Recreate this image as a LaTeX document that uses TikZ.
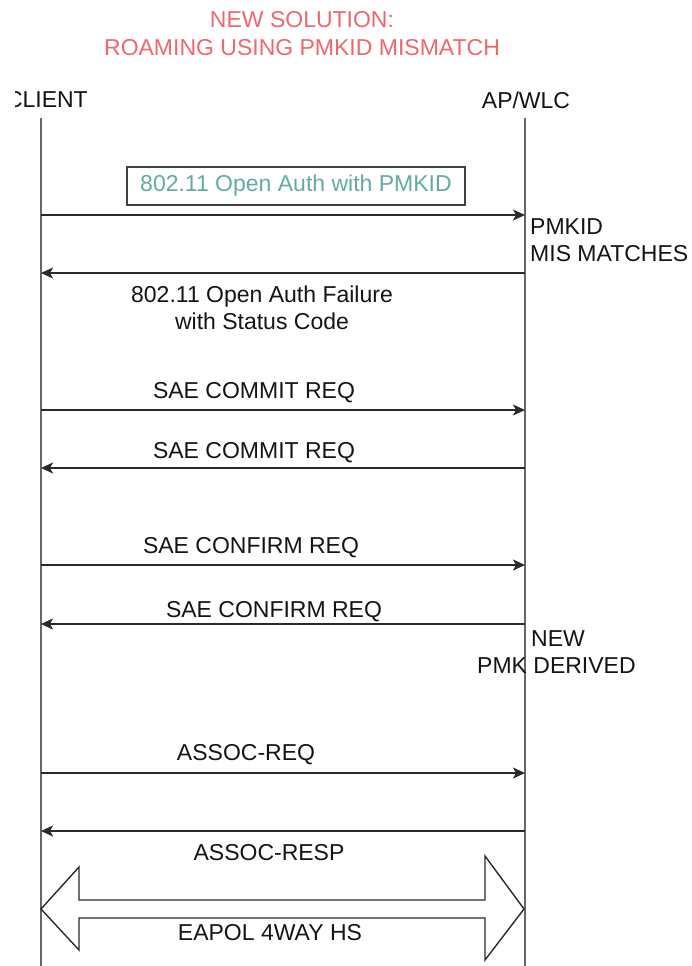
\documentclass[tikz,border=0pt]{standalone}
\usepackage{fontspec}
\setmainfont{Liberation Sans}
\usetikzlibrary{arrows.meta, positioning}
\definecolor{titlered}{HTML}{F0676B}
\definecolor{teal}{HTML}{62ABA4}
\definecolor{lifegray}{HTML}{666666}
\definecolor{msgdark}{HTML}{2A2A2A}

\begin{document}
\begin{tikzpicture}[x=1pt, y=-1pt,
        every node/.style={font=\fontsize{23}{26}\selectfont, inner sep=0pt},
        lifeline/.style={lifegray, line width=2pt},
        msg/.style={msgdark, line width=1.6pt, -{Stealth[length=12pt, width=11pt, inset=3pt]}},
        lbl/.style={text=black!92},
        note/.style={align=left, anchor=north west, text=black!92}
    ]
        \useasboundingbox (0,0) rectangle (692,966);

        % Titel
        \node[text=titlered, align=center] (title) at (302,34) {NEW SOLUTION:\\[2pt]ROAMING USING PMKID MISMATCH};

        % Teilnehmer
        \begin{scope}
            \clip (15,80) rectangle (120,120);
            \node[lbl, anchor=east] (client) at (88,100) {CLIENT};
        \end{scope}
        \node[lbl] (apwlc) at (526,100) {AP/WLC};
        \coordinate (cl) at (41,118);
        \coordinate (ap) at (525,118);
        \draw[lifeline] (cl) -- (cl |- 0,966);
        \draw[lifeline] (ap) -- (ap |- 0,966);

        % Open Auth
        \node[draw=black!75, line width=1.6pt, text=teal, minimum width=338pt, minimum height=38pt] (openauth) at (296,186) {802.11 Open Auth with PMKID};
        \draw[msg] (cl |- 0,215) -- (ap |- 0,215);
        \node[note] (mismatch) at (530,218) {PMKID\\[1pt]MIS MATCHES};
        \draw[msg] (ap |- 0,273) -- (cl |- 0,273);
        \node[lbl, align=center] (failure) at (262,308) {802.11 Open Auth Failure\\[1pt]with Status Code};

        % SAE
        \draw[msg] (cl |- 0,410) -- (ap |- 0,410);
        \node[lbl] (commitreq) at (254,393) {SAE COMMIT REQ};
        \draw[msg] (ap |- 0,468) -- (cl |- 0,468);
        \node[lbl] (commitresp) at (254,453) {SAE COMMIT REQ};
        \draw[msg] (cl |- 0,565) -- (ap |- 0,565);
        \node[lbl] (confirmreq) at (251,548) {SAE CONFIRM REQ};
        \draw[msg] (ap |- 0,624) -- (cl |- 0,624);
        \node[lbl] (confirmresp) at (274,612) {SAE CONFIRM REQ};
        \node[note] (newpmk) at (477,630) {\hspace*{54pt}NEW\\[1pt]PMK DERIVED};

        % Assoc
        \draw[msg] (cl |- 0,773) -- (ap |- 0,773);
        \node[lbl] (assocreq) at (246,755) {ASSOC-REQ};
        \draw[msg] (ap |- 0,831) -- (cl |- 0,831);
        \node[lbl] (assocresp) at (269,853) {ASSOC-RESP};

        % 4-Way Handshake
        \draw[msgdark, line width=1.4pt, line join=miter] (cl |- 0,909) -- ++(38,-42) -- ++(0,33) -- ++(406,0) -- ++(0,-44) -- ++(39,53)
            -- ++(-39,51) -- ++(0,-42) -- ++(-406,0) -- ++(0,32) -- cycle;
        \node[lbl] (eapol) at (270,933) {EAPOL 4WAY HS};

    \end{tikzpicture}
\end{document}
